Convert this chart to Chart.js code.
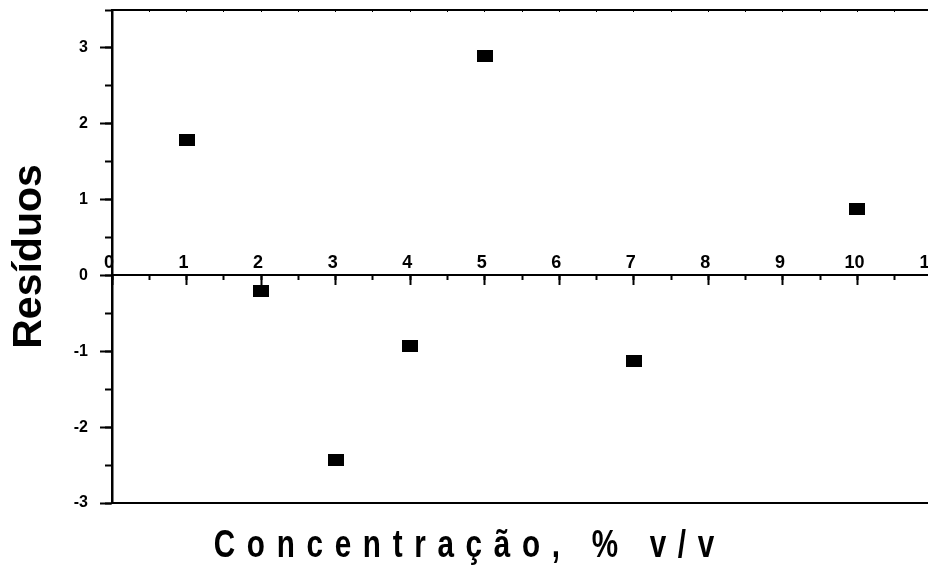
<!DOCTYPE html>
<html>
<head>
<meta charset="utf-8">
<script src="https://cdn.jsdelivr.net/npm/chart.js@4/dist/chart.umd.min.js"></script>
<style>
  html, body { margin: 0; padding: 0; background: #fff; overflow: hidden; }
  #frame { width: 928px; height: 580px; overflow: hidden; position: relative; }
  #box { width: 941px; height: 580px; position: absolute; left: 0; top: 0; }
</style>
</head>
<body>
<div id="frame"><div id="box"><canvas id="c"></canvas></div></div>
<script>
// Residuals of the calibration fit against concentration
const concentracao = [1, 2, 3, 4, 5, 7, 10];
const residuos = [1.79, -0.21, -2.43, -0.93, 2.90, -1.13, 0.88];

const xTickLabels = ['0', '1', '2', '3', '4', '5', '6', '7', '8', '9', '10', '11'];
const yTickLabels = ['-3', '-2', '-1', '0', '1', '2', '3'];

const xTitle = 'Concentração, % v/v';
const yTitle = 'Resíduos';

// filled rectangular marker
const marker = document.createElement('canvas');
marker.width = 16;
marker.height = 12;
const mctx = marker.getContext('2d');
mctx.fillStyle = '#000';
mctx.fillRect(0, 0, 16, 12);

Chart.defaults.font.family = '"Liberation Sans", Arial, sans-serif';
Chart.defaults.color = '#000';

// spaced, condensed x-axis caption below the plot
const xCaption = {
  id: 'xCaption',
  afterDraw(chart) {
    const ctx = chart.ctx;
    const spacing = 15;
    ctx.save();
    ctx.font = 'bold 38px "Liberation Sans", Arial, sans-serif';
    ctx.letterSpacing = spacing + 'px';
    ctx.fillStyle = '#000';
    ctx.textBaseline = 'alphabetic';
    ctx.textAlign = 'left';
    const w = ctx.measureText(xTitle).width - spacing;
    ctx.translate(464, 557);
    ctx.scale(0.78, 1);
    ctx.fillText(xTitle, -w / 2, 0);
    ctx.restore();
  }
};

// axes are laid out flush with the plot area: no extra room for label overhang
const noPad = s => { s.paddingLeft = 0; s.paddingRight = 0; s.paddingTop = 0; s.paddingBottom = 0; };
const zeroHeight = s => { s.height = 0; noPad(s); };

new Chart(document.getElementById('c'), {
  type: 'scatter',
  data: {
    datasets: [{
      data: concentracao.map((c, i) => ({ x: c, y: residuos[i] })),
      pointStyle: marker,
      pointRadius: 8,
      pointHoverRadius: 8,
      showLine: false,
      xAxisID: 'x',
      yAxisID: 'y'
    }]
  },
  options: {
    responsive: true,
    maintainAspectRatio: false,
    animation: false,
    events: [],
    layout: { padding: { top: 10, bottom: 77, left: 0, right: 0 } },
    plugins: { legend: { display: false }, tooltip: { enabled: false } },
    scales: {
      x: {
        type: 'linear', min: 0, max: 11, position: { y: 0 }, weight: 1,
        afterFit: zeroHeight,
        ticks: {
          stepSize: 1, maxTicksLimit: 100, autoSkip: false, maxRotation: 0,
          padding: -32, labelOffset: -3, color: '#000',
          font: { size: 18, weight: 'bold' },
          callback: v => (Number.isInteger(v) ? xTickLabels[v] : '')
        },
        grid: { drawOnChartArea: false, drawTicks: true, tickLength: 9, tickWidth: 2, tickColor: '#000' },
        border: { display: true, color: '#000', width: 2 }
      },
      xMinor: {
        type: 'linear', min: 0, max: 11, position: { y: 0 }, weight: 0,
        afterFit: zeroHeight,
        ticks: { display: false, stepSize: 0.5, maxTicksLimit: 100 },
        grid: { drawOnChartArea: false, drawTicks: true, tickLength: 5, tickWidth: 2, tickColor: '#000' },
        border: { display: false }
      },
      xTop: {
        type: 'linear', min: 0, max: 11, position: 'top',
        afterFit: zeroHeight,
        ticks: { display: false, stepSize: 0.5, maxTicksLimit: 100 },
        grid: { drawOnChartArea: false, drawTicks: true, tickLength: -2, tickWidth: 1, tickColor: '#000' },
        border: { display: true, color: '#000', width: 2 }
      },
      xBottom: {
        type: 'linear', min: 0, max: 11, position: 'bottom',
        afterFit: zeroHeight,
        ticks: { display: false },
        grid: { drawOnChartArea: false, drawTicks: false },
        border: { display: true, color: '#000', width: 2 }
      },
      y: {
        type: 'linear', min: -3, max: 3.5, position: 'left', weight: 1,
        afterFit: s => { s.width = 112; noPad(s); },
        ticks: {
          stepSize: 1, includeBounds: false, padding: 12, color: '#000',
          font: { size: 16, weight: 'bold' },
          callback: v => (Number.isInteger(v) ? yTickLabels[v + 3] : '')
        },
        grid: { drawOnChartArea: false, drawTicks: true, tickLength: 12, tickWidth: 2, tickColor: '#000' },
        border: { display: true, color: '#000', width: 2.5 },
        title: {
          display: true, text: yTitle, color: '#000',
          font: { size: 41, weight: 'bold' },
          padding: { top: 5, bottom: 0 }
        }
      },
      yMinor: {
        type: 'linear', min: -3, max: 3.5, position: 'left', weight: 0,
        afterFit: s => { s.width = 0; noPad(s); },
        ticks: { display: false, stepSize: 0.5, maxTicksLimit: 100 },
        grid: { drawOnChartArea: false, drawTicks: true, tickLength: 7, tickWidth: 2, tickColor: '#000' },
        border: { display: false }
      }
    }
  },
  plugins: [xCaption]
});
</script>
</body>
</html>
